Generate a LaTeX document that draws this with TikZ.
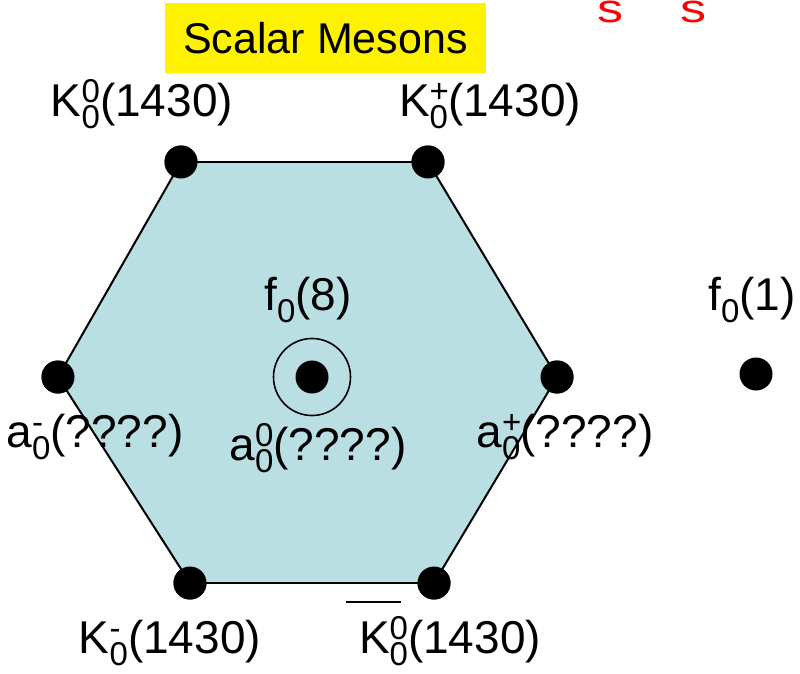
\documentclass[tikz,border=0pt]{standalone}
\usepackage{fontspec}
\setmainfont{Liberation Sans}
\newcommand{\ps}[2]{{\fontsize{33}{33}\selectfont\rlap{\raisebox{14pt}{#1}}\raisebox{-12pt}{#2}}}
\newcommand{\sbs}[1]{{\fontsize{33}{33}\selectfont\raisebox{-12pt}{#1}}}
\newcommand{\rsub}{\rlap{\raisebox{-23pt}{\fontsize{40}{40}\selectfont\scalebox{1.3}[1]{s}}}}
\definecolor{hexblue}{HTML}{B9DFE3}
\tikzset{
  dot/.style={circle,fill=black,inner sep=0pt,minimum size=33pt},
  lab/.style={inner sep=0pt,font=\fontsize{46}{46}\selectfont,anchor=base},
  edge/.style={draw=black,line width=2pt}
}
\begin{document}
\begin{tikzpicture}[x=1pt,y=-1pt]
\useasboundingbox (0,0) rectangle (800,673);
\clip (0,0) rectangle (800,673);
% red cut-off title
\node[lab,text=red,anchor=base west] (title) at (540,-1) {\rlap{u}\hspace*{46pt}\rlap{f}\hspace*{11pt}\rsub\hspace*{69pt}\rlap{f}\hspace*{14pt}\rsub\hspace*{60pt}Mn};
% yellow header
\node[fill=yellow,minimum width=321pt,minimum height=70pt,inner sep=0pt,font=\fontsize{43}{43}\selectfont] (hdr) at (325.5,38) {Scalar Mesons};
% vertices
\node[dot] (tl) at (181,162) {};
\node[dot] (tr) at (428,162) {};
\node[dot] (r) at (557,377) {};
\node[dot] (br) at (434,583) {};
\node[dot] (bl) at (190,583) {};
\node[dot] (l) at (58,377) {};
\fill[hexblue] (tl.center) -- (tr.center) -- (r.center) -- (br.center) -- (bl.center) -- (l.center) -- cycle;
\draw[edge] (tl.center) -- (tr.center);
\draw[edge] (tr.center) -- (r.center);
\draw[edge] (r.center) -- (br.center);
\draw[edge] (br.center) -- (bl.center);
\draw[edge] (bl.center) -- (l.center);
\draw[edge] (l.center) -- (tl.center);
\node[dot] at (tl) {};
\node[dot] at (tr) {};
\node[dot] at (r) {};
\node[dot] at (br) {};
\node[dot] at (bl) {};
\node[dot] at (l) {};
% centre
\node[dot] (c) at (312,377) {};
\node[circle,draw=black,line width=1.6pt,minimum size=77pt,inner sep=0pt] (ring) at (c) {};
% singlet
\node[dot] (s) at (756,374) {};
% labels
\node[lab] (ltl) at (142,116) {K\ps{0}{0}(1430)};
\node[lab] (ltr) at (490,116) {K\ps{+}{0}(1430)};
\node[lab] (lf8) at (308,310) {f\sbs{0}(8)};
\node[lab] (lf1) at (752,310) {f\sbs{0}(1)};
\node[lab] (ll) at (95,447) {a\ps{-}{0}(????)};
\node[lab] (lc) at (318,460) {a\ps{0}{0}(????)};
\node[lab] (lr) at (565,447) {a\ps{+}{0}(????)};
\node[lab] (lbl) at (170,653) {K\ps{-}{0}(1430)};
\node[lab] (lbr) at (450,653) {K\ps{0}{0}(1430)};
\draw[line width=2pt] ([xshift=-13pt,yshift=51pt]lbr.base west) -- ++(55,0);
\end{tikzpicture}
\end{document}
